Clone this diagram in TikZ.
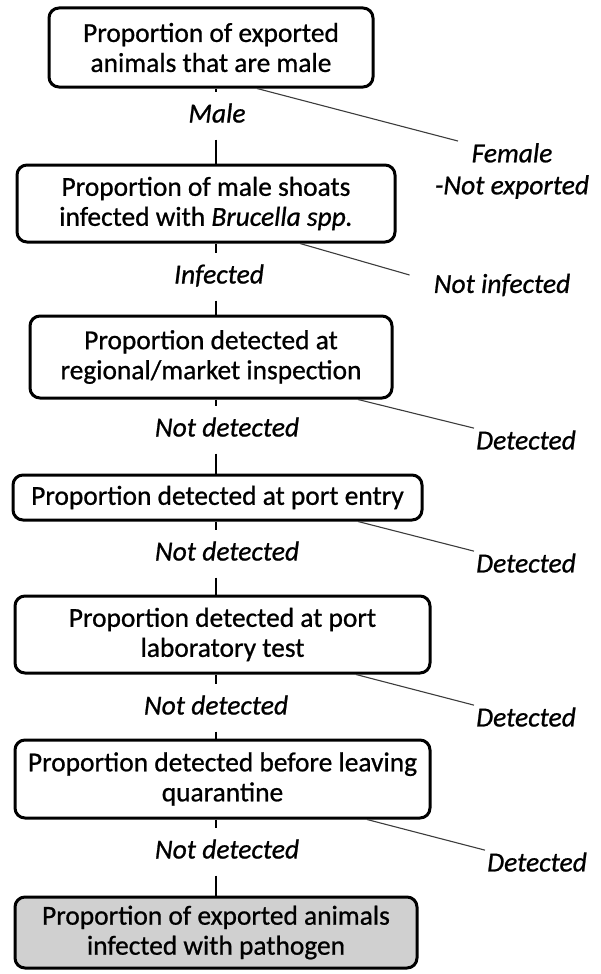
\documentclass[tikz,border=0pt]{standalone}
\usepackage{fontspec}
\setmainfont{Carlito}[FakeBold=0.8]
\usepackage{xcolor}
\usepackage{tikz}
\usetikzlibrary{positioning}
\definecolor{boxgray}{RGB}{208, 208, 208}
\definecolor{linegray}{RGB}{60, 60, 60}

\begin{document}
\begin{tikzpicture}[
  x=1pt, y=-1pt,
  stage/.style={draw, line width=3pt, rounded corners=10pt, align=center,
                inner sep=0pt, font=\fontsize{27.4}{30}\selectfont},
  finalstage/.style={stage, fill=boxgray},
  passlbl/.style={font=\fontsize{27.5}{30}\selectfont\itshape,
                  text height=24pt, text depth=11pt, inner sep=6pt},
  droplbl/.style={font=\fontsize{27.5}{32}\selectfont\itshape, align=center, inner sep=2pt},
  stem/.style={line width=2pt},
  branch/.style={line width=1.1pt, draw=linegray},
]
\useasboundingbox (0,0) rectangle (601,974);
\coordinate (spine) at (216,0);

% Stage boxes (main chain)
\node[stage, minimum width=324, minimum height=79] (pmale)   at (211,47.5)  {Proportion of exported\\animals that are male};
\node[stage, minimum width=378, minimum height=77] (pinfect) at (206,203.5) {Proportion of male shoats\\infected with \textit{Brucella spp.}};
\node[stage, minimum width=362, minimum height=82] (pregion) at (211,357)   {Proportion detected at\\regional/market inspection};
\node[stage, minimum width=409, minimum height=45] (pport)   at (217.5,497.5) {Proportion detected at port entry};
\node[stage, minimum width=415, minimum height=77] (plab)    at (222.5,634.5) {Proportion detected at port\\laboratory test};
\node[stage, minimum width=415, minimum height=78] (pquar)   at (222.5,779) {Proportion detected before leaving\\quarantine};
\node[finalstage, minimum width=402, minimum height=71] (pexport) at (216,932.5) {Proportion of exported animals\\infected with pathogen};

% Labels on the chain
\node[passlbl] (lmale)     at (217,116) {Male};
\node[passlbl] (linfected) at (219,277) {Infected};
\node[passlbl] (lnd1)      at (227,430) {Not detected};
\node[passlbl] (lnd2)      at (227,554) {Not detected};
\node[passlbl] (lnd3)      at (216,708) {Not detected};
\node[passlbl] (lnd4)      at (227,852) {Not detected};

% Labels off the chain
\node[droplbl] (lfemale) at (512,171) {Female\\-Not exported};
\node[droplbl] (lnotinf) at (502,285) {Not infected};
\node[droplbl] (ld1) at (526,440) {Detected};
\node[droplbl] (ld2) at (526,563) {Detected};
\node[droplbl] (ld3) at (526,717) {Detected};
\node[droplbl] (ld4) at (537,862) {Detected};

% Stems
\draw[stem] (pmale.south -| spine)     -- (lmale.north -| spine);
\draw[stem] (lmale.south -| spine)     -- (pinfect.north -| spine);
\draw[stem] (pinfect.south -| spine)   -- (linfected.north -| spine);
\draw[stem] (linfected.south -| spine) -- (pregion.north -| spine);
\draw[stem] (pregion.south -| spine)   -- (lnd1.north -| spine);
\draw[stem] (lnd1.south -| spine)      -- (pport.north -| spine);
\draw[stem] (pport.south -| spine)     -- (lnd2.north -| spine);
\draw[stem] (lnd2.south -| spine)      -- (plab.north -| spine);
\draw[stem] (plab.south -| spine)      -- (lnd3.north -| spine);
\draw[stem] (lnd3.south -| spine)      -- (pquar.north -| spine);
\draw[stem] (pquar.south -| spine)     -- (lnd4.north -| spine);
\draw[stem] (lnd4.south -| spine)      -- (pexport.north -| spine);

% Branches
\draw[branch] ([xshift=46]pmale.south)     -- ([xshift=-54]lfemale.north);
\draw[branch] ([xshift=94]pinfect.south)   -- ([xshift=-22,yshift=10]lnotinf.west);
\draw[branch] ([xshift=147]pregion.south)  -- (ld1.north west);
\draw[branch] ([xshift=140.5]pport.south)  -- (ld2.north west);
\draw[branch] ([xshift=133.5]plab.south)   -- (ld3.north west);
\draw[branch] ([xshift=144.5]pquar.south)  -- (ld4.north west);

\end{tikzpicture}
\end{document}
